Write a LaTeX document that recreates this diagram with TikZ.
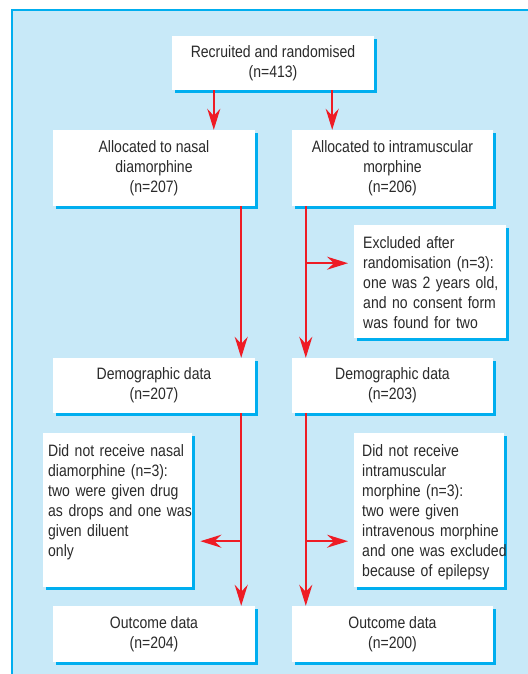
\documentclass[tikz,border=0pt]{standalone}
\usepackage{fontspec}
\setmainfont{Liberation Sans}[FakeStretch=0.85]
\usetikzlibrary{shadows}
\usetikzlibrary{positioning}
\usetikzlibrary{arrows.meta,shapes}
\usetikzlibrary{calc}
\definecolor{panel}{HTML}{C8E9F8}
\definecolor{edge}{HTML}{00AEEF}
\definecolor{arrowred}{HTML}{EE1C25}
\definecolor{txt}{HTML}{2A2A2A}
\newcommand{\notelines}[1]{\begin{tabular}[t]{@{}l@{}}#1\end{tabular}}

\begin{document}
\begin{tikzpicture}[x=1pt, y=-1pt,
  box/.style={fill=white, text=txt, align=center, inner sep=0pt, minimum width=202pt,
    font=\fontsize{16.5}{20}\selectfont,
    drop shadow={shadow xshift=3pt, shadow yshift=-3pt, fill=edge, opacity=1}},
  note/.style={box, align=left, anchor=north west, minimum width=0pt, inner ysep=0pt, text height=23.5pt},
  arr/.style={draw=arrowred, line width=1.8pt, -{Stealth[length=21pt, width=13pt, inset=7pt]}}]

 \useasboundingbox (0,0) rectangle (527,674);
 \draw[fill=panel, draw=edge, line width=1.5pt] (12,10) rectangle (545,690);

 %level 1
 \node[box, minimum height=54pt] (rand) at (273,63) {Recruited and randomised\\(n=413)};

 %level 2
 \def\dy{168}
 \node[box, minimum height=76pt] (nasal) at (154,\dy) {Allocated to nasal\\diamorphine\\(n=207)};
 \node[box, minimum height=76pt, minimum width=201pt] (im) at (392.5,\dy) {Allocated to intramuscular\\morphine\\(n=206)};

 \node[note, inner xsep=9pt, text width=134pt, text depth=89.5pt] (excl) at (354,225)
   {\notelines{Excluded after\\randomisation (n=3):\\one was 2 years old,\\and no consent form\\was found for two}};

 %level 3
 \def\dy{385.5}
 \node[box, minimum height=55pt] (demoL) at (154,\dy) {Demographic data\\(n=207)};
 \node[box, minimum height=55pt, minimum width=201pt] (demoR) at (392.5,\dy) {Demographic data\\(n=203)};

 \node[note, inner xsep=5pt, text width=139pt, text depth=130.5pt] (lostL) at (43,433)
   {\notelines{Did not receive nasal\\diamorphine (n=3):\\two were given drug\\as drops and one was\\given diluent\\only}};
 \node[note, inner xsep=8pt, text width=134pt, text depth=130.5pt] (lostR) at (354,433)
   {\notelines{Did not receive\\intramuscular\\morphine (n=3):\\two were given\\intravenous morphine\\and one was excluded\\because of epilepsy}};

 %level 4
 \def\dy{634}
 \node[box, minimum height=56pt] (outL) at (154,\dy) {Outcome data\\(n=204)};
 \node[box, minimum height=56pt, minimum width=201pt] (outR) at (392.5,\dy) {Outcome data\\(n=200)};

 %arrows
 \coordinate (splitL) at ([xshift=42pt]rand.south west);
 \coordinate (splitR) at ([xshift=-42pt]rand.south east);
 \draw[arr] (splitL) -- (splitL |- nasal.north);
 \draw[arr] (splitR) -- (splitR |- im.north);

 \coordinate (lineL) at ([xshift=-14pt]nasal.south east);
 \coordinate (lineR) at ([xshift=14pt]im.south west);
 \draw[arr] (lineL) -- (lineL |- demoL.north);
 \draw[arr] (lineR) -- (lineR |- demoR.north);
 \draw[arr] (lineL |- demoL.south) -- (lineL |- outL.north);
 \draw[arr] (lineR |- demoR.south) -- (lineR |- outR.north);

 \coordinate (exclIn) at ([yshift=18.5pt]excl.west);
 \coordinate (lostLIn) at ([yshift=-31pt]lostL.east);
 \coordinate (lostRIn) at ([yshift=-31pt]lostR.west);
 \draw[arr, shorten >=6pt] (lineR |- exclIn) -- (exclIn);
 \draw[arr, shorten >=8pt] (lineL |- lostLIn) -- (lostLIn);
 \draw[arr, shorten >=6pt] (lineR |- lostRIn) -- (lostRIn);

\end{tikzpicture}
\end{document}
